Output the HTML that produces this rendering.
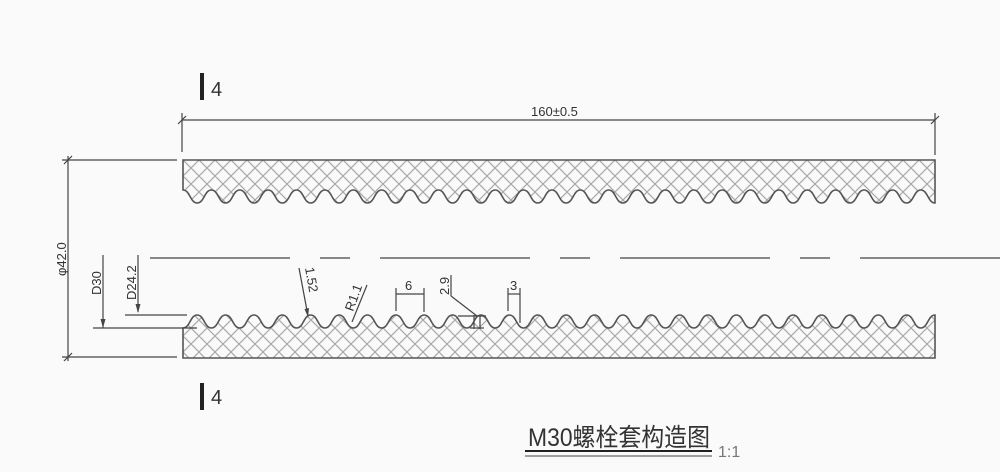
<!DOCTYPE html>
<html><head><meta charset="utf-8"><style>
body{margin:0;background:#fafafa;}
svg{display:block}
text{font-family:"Liberation Sans","Noto Sans CJK SC",sans-serif;fill:#333}
</style></head><body>
<svg width="1000" height="472" viewBox="0 0 1000 472" xmlns="http://www.w3.org/2000/svg">
<defs>
<pattern id="h" width="16" height="16" patternUnits="userSpaceOnUse" x="183" y="160">
<path d="M0 0L16 16M16 0L0 16" stroke="#a8a8a8" stroke-width="1.2"/>
</pattern>
</defs>
<rect width="1000" height="472" fill="#fafafa"/>
<path id="tp" fill="url(#h)" stroke="#555" stroke-width="1.6" d=""/>
<path id="bp" fill="url(#h)" stroke="#555" stroke-width="1.6" d=""/>
<script>
(function(){
var hp=752/53;
var pt="M935 160 L183 160 L183 190 c "+(hp/2)+" 0 "+(hp/2)+" 13 "+hp+" 13";
for(var i=1;i<53;i++){var d=(i%2==1)?-13:13;pt+=" s "+(hp/2)+" "+d+" "+hp+" "+d;}
pt+=" Z";
var pb="M183 358 L183 328 c "+(hp/2)+" 0 "+(hp/2)+" -13 "+hp+" -13";
for(var i=1;i<53;i++){var d=(i%2==1)?13:-13;pb+=" s "+(hp/2)+" "+d+" "+hp+" "+d;}
pb+=" L935 358 Z";
document.getElementById('tp').setAttribute('d',pt);
document.getElementById('bp').setAttribute('d',pb);
})();
</script>
<g stroke="#444" stroke-width="1.2" fill="none">
<line x1="182" y1="120" x2="935" y2="120"/>
<line x1="182" y1="113" x2="182" y2="152"/>
<line x1="935" y1="113" x2="935" y2="155"/>
<line x1="178" y1="124" x2="186" y2="116"/><line x1="931" y1="124" x2="939" y2="116"/>
<line x1="62" y1="160" x2="177" y2="160"/>
<line x1="62" y1="357" x2="177" y2="357"/>
<line x1="68" y1="156" x2="68" y2="361"/>
<line x1="64" y1="164" x2="72" y2="156"/><line x1="64" y1="361" x2="72" y2="353"/>
<line x1="93" y1="328" x2="197" y2="328"/>
<line x1="103" y1="255" x2="103" y2="328"/>
<line x1="125" y1="315" x2="187" y2="315"/>
<line x1="138" y1="255" x2="138" y2="312"/>
<path d="M150 258H290M320 258H350M380 258H530M560 258H590M620 258H770M800 258H830M860 258H1000"/>
<line x1="299" y1="268" x2="308" y2="316"/>
<line x1="352" y1="322" x2="367" y2="285"/>
<line x1="396" y1="294" x2="424" y2="294"/>
<line x1="396" y1="288" x2="396" y2="311"/><line x1="424" y1="288" x2="424" y2="312"/>
<line x1="451" y1="275" x2="451" y2="296"/>
<line x1="451" y1="296" x2="477" y2="316"/>
<line x1="458" y1="316" x2="486" y2="316"/>
<line x1="474" y1="315" x2="474" y2="329"/><line x1="480" y1="315" x2="480" y2="329"/>
<line x1="470" y1="328" x2="484" y2="328"/>
<line x1="508" y1="294" x2="520" y2="294"/>
<line x1="508" y1="288" x2="508" y2="311"/><line x1="520" y1="288" x2="520" y2="323"/>
</g>
<path d="M103 328l-2.5-9h5zM138 313l-2.5-9h5zM308 317l-3.5-8 4.5-1z" fill="#444"/>
<rect x="200" y="73" width="4" height="27" fill="#222"/>
<text x="211" y="96" font-size="20">4</text>
<rect x="200" y="383" width="4" height="27" fill="#222"/>
<text x="211" y="404" font-size="20">4</text>
<text x="531" y="116" font-size="13">160±0.5</text>
<text transform="translate(66,276) rotate(-90)" font-size="13">φ42.0</text>
<text transform="translate(101,295) rotate(-90)" font-size="13">D30</text>
<text transform="translate(136,300) rotate(-90)" font-size="13">D24.2</text>
<text transform="translate(305,268) rotate(80)" font-size="13">1.52</text>
<text transform="translate(353,312) rotate(-70)" font-size="13">R1.1</text>
<text x="405" y="290" font-size="13">6</text>
<text transform="translate(449,295) rotate(-90)" font-size="13">2.9</text>
<text x="510" y="290" font-size="13">3</text>
<text x="528" y="446" font-size="25" textLength="182" lengthAdjust="spacingAndGlyphs">M30螺栓套构造图</text>
<line x1="525" y1="451" x2="712" y2="451" stroke="#222" stroke-width="2"/>
<line x1="525" y1="456" x2="712" y2="456" stroke="#444" stroke-width="1"/>
<text x="718" y="457" font-size="16" style="fill:#777">1:1</text>
</svg>
</body></html>
